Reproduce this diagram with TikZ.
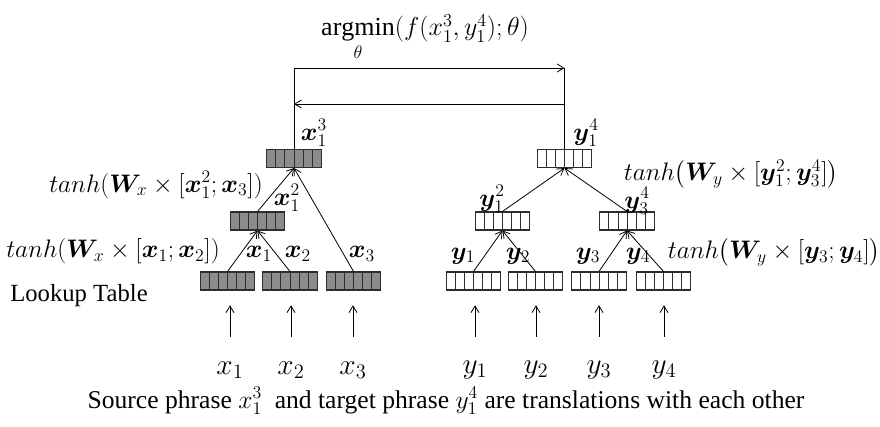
\RequirePackage{fix-cm}
\documentclass[tikz,border=0pt]{standalone}
\usepackage{fontspec}
\setmainfont{Liberation Serif}
\usepackage{amsmath}
\usepackage{bm}
\usetikzlibrary{arrows.meta,calc}

\definecolor{cellgray}{RGB}{140,140,140}
\definecolor{edgegray}{RGB}{45,45,45}

\tikzset{
  vecbox/.style={draw=edgegray, line width=0.8pt, minimum width=41pt, minimum height=13.5pt, inner sep=0pt,
    path picture={
      \foreach \i in {1,...,5}
        \draw[edgegray, line width=0.6pt]
          ($(path picture bounding box.south west)!\i/6!(path picture bounding box.south east)$) --
          ($(path picture bounding box.north west)!\i/6!(path picture bounding box.north east)$);
    }},
  srcbox/.style={vecbox, fill=cellgray},
  tgtbox/.style={vecbox, fill=white},
  lbl/.style={inner sep=0pt, font=\fontsize{19}{22}\selectfont},
  word/.style={inner sep=0pt, font=\fontsize{22}{26}\selectfont},
  arr/.style={-{Straight Barb[length=5pt,width=6pt]}, line width=0.6pt},
}

\begin{document}
\begin{tikzpicture}[x=0.75pt,y=0.75pt,yscale=-1,xscale=1]
\useasboundingbox (0,0) rectangle (880,426);

% source side
\node[srcbox] (xa) at (227.5,281) {};
\node[srcbox] (xb) at (290,281) {};
\node[srcbox] (xc) at (353.5,281) {};
\node[srcbox] (xab) at (257.5,221) {};
\node[srcbox] (xabc) at (294,158.5) {};

% target side
\node[tgtbox] (ya) at (473.5,281) {};
\node[tgtbox] (yb) at (535.5,281) {};
\node[tgtbox] (yc) at (599,281) {};
\node[tgtbox] (yd) at (663.5,281) {};
\node[tgtbox] (yab) at (502.5,221) {};
\node[tgtbox] (ycd) at (627,221) {};
\node[tgtbox] (yabcd) at (564.5,158.5) {};

% words
\node[word] (xin1) at (230,370) {$x_1$};
\node[word] (xin2) at (291,370) {$x_2$};
\node[word] (xin3) at (353,370) {$x_3$};
\node[word] (yin1) at (475,370) {$y_1$};
\node[word] (yin2) at (536,370) {$y_2$};
\node[word] (yin3) at (599,370) {$y_3$};
\node[word] (yin4) at (664,370) {$y_4$};

\foreach \w/\b in {xin1/xa,xin2/xb,xin3/xc,yin1/ya,yin2/yb,yin3/yc,yin4/yd}
  \draw[arr, shorten <=18pt, shorten >=11pt] (\w.north) -- (\w.north |- \b.south);

% composition
\draw[arr] (xa.north) -- (xab.south);
\draw[arr] (xb.north) -- (xab.south);
\draw[arr] (xab.north) -- (xabc.south);
\draw[arr] (xc.north) -- (xabc.south);
\draw[arr] (ya.north) -- (yab.south);
\draw[arr] (yb.north) -- (yab.south);
\draw[arr] (yc.north) -- (ycd.south);
\draw[arr] (yd.north) -- (ycd.south);
\draw[arr] (yab.north) -- (yabcd.south);
\draw[arr] (ycd.north) -- (yabcd.south);

% node labels
\node[lbl] (lxabc) at (314,133) {$\bm{x}_1^3$};
\node[lbl] (lxab) at (287,198) {$\bm{x}_1^2$};
\node[lbl] (lxa) at (259,254) {$\bm{x}_1$};
\node[lbl] (lxb) at (298,254) {$\bm{x}_2$};
\node[lbl] (lxc) at (362,254) {$\bm{x}_3$};
\node[lbl] (lyabcd) at (586,133) {$\bm{y}_1^4$};
\node[lbl] (lyab) at (492,199) {$\bm{y}_1^2$};
\node[lbl] (lycd) at (637,201) {$\bm{y}_3^4$};
\node[lbl] (lya) at (463,256) {$\bm{y}_1$};
\node[lbl] (lyb) at (518,256) {$\bm{y}_2$};
\node[lbl] (lyc) at (588,256) {$\bm{y}_3$};
\node[lbl] (lyd) at (638,256) {$\bm{y}_4$};

\node[lbl] (fxabc) at (156,185) {$tanh(\bm{W}_x \times [\bm{x}_1^2;\bm{x}_3])$};
\node[lbl] (fxab) at (113,251) {$tanh(\bm{W}_x \times [\bm{x}_1;\bm{x}_2])$};
\node[lbl] (fyabcd) at (731,174) {$tanh\bigl(\bm{W}_y \times [\bm{y}_1^2;\bm{y}_3^4]\bigr)$};
\node[lbl] (fycd) at (774,252) {$tanh\bigl(\bm{W}_y \times [\bm{y}_3;\bm{y}_4]\bigr)$};
\node[lbl, font=\fontsize{18.5}{22}\selectfont] (lookup) at (79,296) {Lookup Table};

% objective
\coordinate (topR) at (564.5,68);
\coordinate (midR) at (564.5,104);
\draw[arr] (xabc.north) |- (topR);
\draw[line width=0.6pt] (yabcd.north) -- (topR);
\draw[arr] (midR) -- (midR -| xabc.north);
\node[lbl, font=\fontsize{19.5}{23}\selectfont] (obj) at (425,38) {$\underset{\theta}{\mathrm{argmin}}(f(x_1^3,y_1^4);\theta)$};

\node[lbl, font=\fontsize{19.2}{23}\selectfont] (caption) at (446,401) {Source phrase $x_1^3$\ \ and target phrase $y_1^4$ are translations with each other};
\end{tikzpicture}
\end{document}
